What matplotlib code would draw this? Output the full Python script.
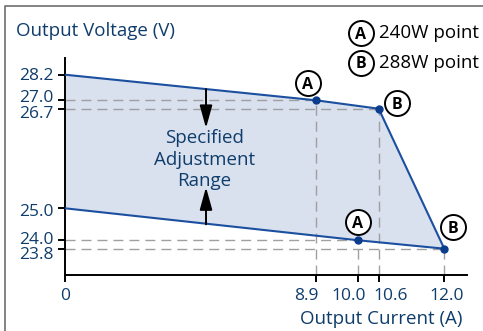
import numpy as np
import matplotlib
matplotlib.use("Agg")
import matplotlib.pyplot as plt
from matplotlib.transforms import ScaledTranslation

# ---- data -------------------------------------------------------------
upper_current = [0.0, 8.9, 10.6, 12.0]
upper_voltage = [28.2, 27.0, 26.7, 23.8]
lower_current = [0.0, 10.0, 12.0]
lower_voltage = [25.0, 24.0, 23.8]

point_current = [8.9, 10.6, 10.0, 12.0]
point_voltage = [27.0, 26.7, 24.0, 23.8]
point_letter = ["A", "B", "A", "B"]

x_ticks = [0.0, 8.9, 10.0, 10.6, 12.0]
x_tick_labels = ["0", "8.9", "10.0", "10.6", "12.0"]
y_ticks = [28.2, 27.0, 26.7, 25.0, 24.0, 23.8]
y_tick_labels = ["28.2", "27.0", "26.7", "25.0", "24.0", "23.8"]

legend_letters = ["A", "B"]
legend_texts = ["240W point", "288W point"]

range_lines = ["Specified", "Adjustment", "Range"]
arrow_current = 5.0

# ---- style ------------------------------------------------------------
TEXT = "#0f3d6b"
LINE = "#1b4f9f"
DOT = "#0c3c8c"
FILL = "#d9e0ee"
DASH = "#a0a0a0"
FS = 13.5
TICK_FS = 12.5
LETTER_FS = 11.5

plt.rcParams["font.family"] = ["Open Sans", "DejaVu Sans"]

W, H = 483, 331
PT = 72 / 100  # points per pixel at 100 dpi
fig = plt.figure(figsize=(W / 100, H / 100), dpi=100)

# overlay in pixel coordinates (y grows downward) for frame, titles and key
ov = fig.add_axes([0, 0, 1, 1], zorder=0)
ov.set_xlim(0, W)
ov.set_ylim(H, 0)
ov.axis("off")


# schematic (non-proportional) axes: piecewise-linear scales
def piecewise(src, dst):
    src = np.asarray(src, float)
    dst = np.asarray(dst, float)

    def f(v):
        v = np.asarray(v, float)
        out = np.interp(v, src, dst)
        s0 = (dst[1] - dst[0]) / (src[1] - src[0])
        s1 = (dst[-1] - dst[-2]) / (src[-1] - src[-2])
        out = np.where(v < src[0], dst[0] + (v - src[0]) * s0, out)
        out = np.where(v > src[-1], dst[-1] + (v - src[-1]) * s1, out)
        return out
    return f


x_knots = [0.0, 8.9, 10.0, 10.6, 12.0, 12.5]
x_pos = [65, 316, 358.3, 378.7, 444.3, 466.7]
y_knots = [23.2, 23.8, 24.0, 25.0, 26.7, 27.0, 28.2, 28.6]
y_pos = [H - p for p in [275.3, 248.7, 240.3, 208.3, 108.7, 100.3, 74.7, 58.0]]

x_lim = (x_knots[0], x_knots[-1])
y_lim = (y_knots[0], y_knots[-1])

ax = fig.add_axes([x_pos[0] / W, y_pos[0] / H,
                   (x_pos[-1] - x_pos[0]) / W, (y_pos[-1] - y_pos[0]) / H], zorder=1)
ax.set_xscale("function", functions=(piecewise(x_knots, x_pos), piecewise(x_pos, x_knots)))
ax.set_yscale("function", functions=(piecewise(y_knots, y_pos), piecewise(y_pos, y_knots)))
ax.set_xlim(*x_lim)
ax.set_ylim(*y_lim)
ax.patch.set_alpha(0)

# adjustment band
band_x = upper_current + lower_current[::-1]
band_y = upper_voltage + lower_voltage[::-1]
ax.fill(band_x, band_y, color=FILL, lw=0, zorder=1)

# guide lines to the operating points
for cx, cy in zip(point_current, point_voltage):
    ax.plot([x_lim[0], cx], [cy, cy], color=DASH, lw=1.0, dashes=(7.2, 4.3), zorder=2)
    ax.plot([cx, cx], [y_lim[0], cy], color=DASH, lw=1.0, dashes=(7.2, 4.3), zorder=2)

ax.plot(upper_current, upper_voltage, color=LINE, lw=1.5, zorder=3)
ax.plot(lower_current, lower_voltage, color=LINE, lw=1.5, zorder=3)
ax.plot(point_current, point_voltage, "o", color=DOT, ms=5, zorder=4)


def circled(axes, x, y, letter, base):
    """Bold letter inside an open circle, centred at (x, y) in `base`."""
    axes.plot([x], [y], "o", ms=18, mfc="white", mec="black", mew=1.4,
              transform=base, zorder=5, clip_on=False)
    shift = ScaledTranslation(0, -5.6 * PT / 72, fig.dpi_scale_trans)
    axes.text(x, y, letter, ha="center", va="baseline", fontsize=LETTER_FS,
              fontweight="bold", color="black", transform=base + shift, zorder=6)


# circled letters beside each point (offsets in pixels: right, up)
label_offsets = [(-8.3, 17), (18.3, 5.7), (-0.3, 18.3), (9, 21.4)]
for cx, cy, letter, (dx, dy) in zip(point_current, point_voltage, point_letter, label_offsets):
    tr = ax.transData + ScaledTranslation(dx * PT / 72, dy * PT / 72, fig.dpi_scale_trans)
    circled(ax, cx, cy, letter, tr)

# arrows marking the adjustable range
up_v = float(np.interp(arrow_current, upper_current, upper_voltage))
lo_v = float(np.interp(arrow_current, lower_current, lower_voltage))
arr = dict(arrowstyle="-|>,head_length=1.37,head_width=0.38", color="black", lw=1.4,
           shrinkA=0, shrinkB=0, mutation_scale=10)
ax.annotate("", xy=(arrow_current, 26.37), xytext=(arrow_current, up_v), arrowprops=arr, zorder=5)
ax.annotate("", xy=(arrow_current, 25.36), xytext=(arrow_current, lo_v), arrowprops=arr, zorder=5)
for line, drop_px in zip(range_lines, [34.6, 56.3, 77.3]):
    ax.annotate(line, xy=(arrow_current, 26.7), xytext=(-1, -drop_px * PT),
                textcoords="offset points", ha="center", va="baseline",
                fontsize=FS, color=TEXT, zorder=5)

# axes styling
for s in ["top", "right"]:
    ax.spines[s].set_visible(False)
for s in ["left", "bottom"]:
    ax.spines[s].set_linewidth(1.4)
    ax.spines[s].set_color("black")
ax.set_xticks(x_ticks)
ax.set_xticklabels(x_tick_labels)
ax.set_yticks(y_ticks)
ax.set_yticklabels(y_tick_labels)
ax.xaxis.set_minor_locator(matplotlib.ticker.NullLocator())
ax.yaxis.set_minor_locator(matplotlib.ticker.NullLocator())
ax.tick_params(axis="both", length=5, width=1.4, color="black", labelcolor=TEXT,
               labelsize=TICK_FS)
ax.tick_params(axis="x", pad=4)
ax.tick_params(axis="y", pad=3.5)

# nudge crowded tick labels apart (pixels: right / down)
x_nudge = [0, -10, -9.5, 12.3, 2.4]
y_nudge = [-1, -4.3, 3, 1.7, -2.8, 4.3]
for lab, dx in zip(ax.get_xticklabels(), x_nudge):
    lab.set_transform(lab.get_transform() + ScaledTranslation(dx * PT / 72, 0, fig.dpi_scale_trans))
for lab, dy in zip(ax.get_yticklabels(), y_nudge):
    lab.set_transform(lab.get_transform() + ScaledTranslation(0, -dy * PT / 72, fig.dpi_scale_trans))

# axis titles
ov.text(16, 36.5, "Output Voltage (V)", ha="left", va="baseline", fontsize=FS, color=TEXT)
ov.text(463, 324.5, "Output Current (A)", ha="right", va="baseline", fontsize=FS, color=TEXT)

# key for the circled markers
for i, (letter, label) in enumerate(zip(legend_letters, legend_texts)):
    yc = 33.3 + 29.2 * i
    circled(ov, 360.8, yc, letter, ov.transData)
    ov.text(379, yc + 5.2, label, ha="left", va="baseline", fontsize=FS, color="black")

# outer frame
ov.plot([4.8, 4.8, W + 2], [H + 2, 5.7, 5.7], color="#6e6e6e", lw=1.2, clip_on=False)

fig.savefig("out.png", dpi=100)
